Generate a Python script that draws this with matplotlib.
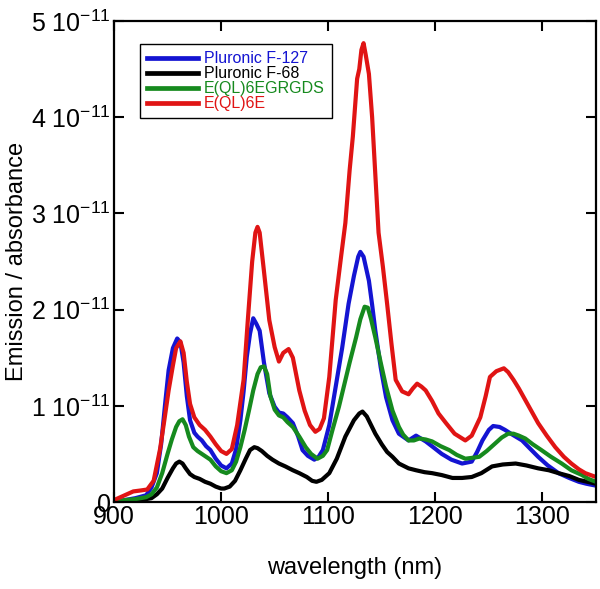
import numpy as np
import matplotlib
matplotlib.use("Agg")
import matplotlib.pyplot as plt

plt.rcParams["font.family"] = ["Liberation Sans", "DejaVu Sans"]
plt.rcParams["mathtext.default"] = "regular"

# emission / absorbance values in units of 1e-11
red_x = [900, 910, 918, 925, 931, 937, 943, 947, 951, 955, 958, 962, 965, 968, 971, 975, 980, 985, 990, 995,
         1000, 1005, 1010, 1015, 1021, 1025, 1029, 1032, 1034, 1036, 1040, 1045, 1050, 1054, 1058, 1063, 1067,
         1073, 1078, 1083, 1088, 1092, 1096, 1101, 1107, 1112, 1116, 1120, 1123, 1127, 1129, 1131, 1133, 1135,
         1138, 1141, 1144, 1147, 1151, 1155, 1159, 1163, 1169, 1175, 1179, 1183, 1187, 1191, 1197, 1203, 1210,
         1218, 1228, 1234, 1242, 1247, 1251, 1257, 1264, 1268, 1273, 1278, 1284, 1290, 1296, 1304, 1312, 1320,
         1327, 1334, 1340, 1350]
red_y = [0.02, 0.07, 0.11, 0.12, 0.13, 0.22, 0.55, 0.85, 1.16, 1.42, 1.60, 1.67, 1.55, 1.25, 1.02, 0.88, 0.80,
         0.75, 0.68, 0.60, 0.53, 0.50, 0.55, 0.80, 1.27, 1.90, 2.50, 2.80, 2.86, 2.80, 2.40, 1.89, 1.61, 1.46,
         1.55, 1.59, 1.50, 1.16, 0.95, 0.80, 0.73, 0.76, 0.87, 1.30, 2.10, 2.55, 2.90, 3.45, 3.80, 4.40, 4.50,
         4.70, 4.77, 4.65, 4.45, 4.00, 3.40, 2.80, 2.45, 2.06, 1.65, 1.27, 1.15, 1.12, 1.18, 1.23, 1.20, 1.16,
         1.05, 0.92, 0.82, 0.71, 0.64, 0.69, 0.88, 1.10, 1.30, 1.36, 1.39, 1.35, 1.27, 1.18, 1.06, 0.94, 0.82,
         0.69, 0.57, 0.47, 0.40, 0.34, 0.30, 0.26]

blue_x = [900, 910, 920, 930, 935, 940, 944, 948, 951, 955, 959, 962, 965, 968, 971, 975, 978, 982, 986, 990,
          995, 1000, 1005, 1010, 1014, 1018, 1021, 1024, 1027, 1030, 1033, 1036, 1040, 1045, 1050, 1054, 1058,
          1062, 1067, 1072, 1076, 1081, 1087, 1091, 1095, 1101, 1107, 1113, 1119, 1124, 1128, 1130, 1133, 1138,
          1141, 1144, 1149, 1154, 1160, 1166, 1175, 1182, 1191, 1198, 1206, 1215, 1225, 1234, 1239, 1244, 1250,
          1254, 1260, 1265, 1272, 1281, 1288, 1296, 1305, 1315, 1325, 1334, 1341, 1350]
blue_y = [0.0, 0.02, 0.04, 0.07, 0.15, 0.30, 0.60, 1.05, 1.37, 1.60, 1.70, 1.66, 1.45, 1.10, 0.85, 0.72, 0.68,
          0.64, 0.58, 0.54, 0.45, 0.38, 0.35, 0.40, 0.55, 0.85, 1.15, 1.51, 1.75, 1.91, 1.85, 1.78, 1.45, 1.13,
          0.99, 0.93, 0.92, 0.88, 0.82, 0.68, 0.54, 0.48, 0.44, 0.47, 0.54, 0.80, 1.20, 1.60, 2.06, 2.35, 2.55,
          2.60, 2.55, 2.30, 2.05, 1.78, 1.40, 1.09, 0.85, 0.71, 0.64, 0.69, 0.63, 0.57, 0.50, 0.44, 0.40, 0.42,
          0.52, 0.64, 0.75, 0.79, 0.78, 0.75, 0.70, 0.64, 0.56, 0.47, 0.38, 0.30, 0.25, 0.21, 0.19, 0.17]

green_x = [900, 910, 920, 930, 935, 940, 945, 950, 954, 958, 961, 964, 967, 970, 974, 978, 982, 986, 990, 995,
           1000, 1005, 1010, 1014, 1018, 1022, 1026, 1030, 1034, 1037, 1040, 1043, 1046, 1050, 1054, 1058, 1062,
           1067, 1073, 1079, 1084, 1090, 1095, 1099, 1104, 1110, 1115, 1120, 1126, 1130, 1134, 1137, 1140, 1144,
           1149, 1154, 1160, 1166, 1170, 1175, 1180, 1185, 1191, 1197, 1205, 1213, 1220, 1228, 1235, 1241, 1248,
           1256, 1262, 1268, 1273, 1278, 1284, 1291, 1299, 1308, 1318, 1327, 1337, 1343, 1350]
green_y = [0.0, 0.02, 0.03, 0.05, 0.08, 0.15, 0.30, 0.50, 0.65, 0.78, 0.84, 0.86, 0.80, 0.68, 0.57, 0.53, 0.50,
           0.47, 0.44, 0.37, 0.32, 0.30, 0.33, 0.42, 0.57, 0.75, 0.95, 1.16, 1.33, 1.40, 1.41, 1.33, 1.10, 0.96,
           0.90, 0.88, 0.83, 0.78, 0.68, 0.57, 0.50, 0.45, 0.48, 0.54, 0.75, 0.99, 1.22, 1.45, 1.71, 1.90, 2.03,
           2.02, 1.90, 1.71, 1.45, 1.20, 0.95, 0.78, 0.70, 0.64, 0.64, 0.66, 0.65, 0.63, 0.58, 0.54, 0.49, 0.45,
           0.46, 0.47, 0.53, 0.61, 0.67, 0.71, 0.71, 0.69, 0.66, 0.60, 0.54, 0.47, 0.40, 0.33, 0.28, 0.24, 0.21]

black_x = [900, 910, 920, 930, 935, 940, 945, 950, 955, 958, 961, 964, 967, 971, 975, 980, 985, 990, 995, 1000,
           1003, 1008, 1013, 1018, 1023, 1027, 1031, 1034, 1038, 1043, 1048, 1054, 1060, 1067, 1073, 1080, 1085,
           1089, 1094, 1101, 1108, 1116, 1124, 1129, 1132, 1136, 1140, 1144, 1150, 1155, 1160, 1166, 1175, 1182,
           1190, 1197, 1206, 1216, 1225, 1234, 1243, 1253, 1263, 1275, 1285, 1296, 1306, 1315, 1325, 1334, 1342,
           1350]
black_y = [0.0, 0.01, 0.02, 0.03, 0.04, 0.08, 0.14, 0.25, 0.35, 0.40, 0.42, 0.40, 0.35, 0.29, 0.26, 0.24, 0.21,
           0.19, 0.16, 0.14, 0.14, 0.16, 0.22, 0.33, 0.45, 0.54, 0.57, 0.56, 0.53, 0.48, 0.44, 0.40, 0.37, 0.33,
           0.30, 0.26, 0.22, 0.21, 0.23, 0.30, 0.45, 0.68, 0.85, 0.92, 0.94, 0.89, 0.80, 0.71, 0.60, 0.52, 0.47,
           0.40, 0.35, 0.33, 0.31, 0.30, 0.28, 0.25, 0.25, 0.26, 0.30, 0.37, 0.39, 0.40, 0.38, 0.35, 0.33, 0.30,
           0.27, 0.23, 0.21, 0.19]

labels = ["Pluronic F-127", "Pluronic F-68", "E(QL)6EGRGDS", "E(QL)6E"]
colors = ["#1414d2", "#000000", "#168a1e", "#e01414"]
xticks = [900, 1000, 1100, 1200, 1300]
yticks = [0, 1, 2, 3, 4, 5]

fig = plt.figure(figsize=(6.0, 5.89), dpi=100)
ax = fig.add_axes([0.19, 0.1477, 0.8033, 0.8166])

series = [(blue_x, blue_y), (black_x, black_y), (green_x, green_y), (red_x, red_y)]
for (xs, ys), lab, col in zip(series, labels, colors):
    ax.plot(xs, np.array(ys) * 1e-11, color=col, linewidth=3.0, label=lab,
            solid_joinstyle="round")

ax.set_xlim(900, 1350)
ax.set_ylim(0, 5e-11)
ax.set_xticks(xticks)
ax.set_xticklabels([str(t) for t in xticks])
ax.set_yticks([t * 1e-11 for t in yticks])
ax.set_yticklabels(["0"] + [f"{t} 10$^{{-11}}$" for t in yticks[1:]])
ax.tick_params(direction="in", top=True, right=True, length=7, width=1.5, labelsize=18, pad=2)
for sp in ax.spines.values():
    sp.set_linewidth(1.6)

ax.set_xlabel("wavelength (nm)", fontsize=17, labelpad=20)
ax.set_ylabel("Emission / absorbance", fontsize=17)
ax.yaxis.set_label_coords(-0.178, 0.5)

leg = ax.legend(loc="upper left", bbox_to_anchor=(0.054, 0.952), borderaxespad=0, fontsize=11.5,
                labelcolor=colors, handlelength=3.2, handletextpad=0.35, labelspacing=0.0,
                borderpad=0.45, fancybox=False, framealpha=1)
leg.get_frame().set_edgecolor("black")
leg.get_frame().set_linewidth(1.0)
for h in leg.get_lines():
    h.set_linewidth(3.4)

fig.savefig("out.png", dpi=100)
